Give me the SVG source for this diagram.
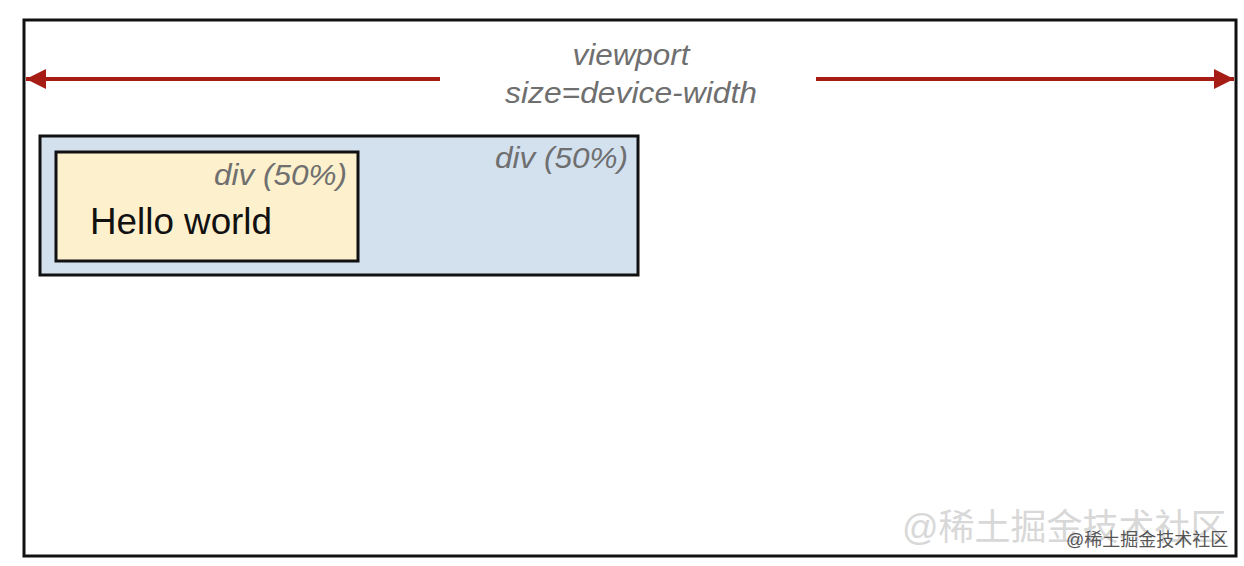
<svg xmlns="http://www.w3.org/2000/svg" width="1244" height="566" viewBox="0 0 1244 566">
<style>
.lbl{font-family:"Liberation Sans",Arial,sans-serif;font-style:italic;fill:#6f6f6f}
.box{stroke:#111;stroke-width:3}
.arr{stroke:#a51d14;stroke-width:4;fill:none}
</style>
<defs>
<marker id="ah" viewBox="0 0 10 10" refX="10" refY="5" markerWidth="5.5" markerHeight="5" orient="auto-start-reverse" markerUnits="strokeWidth">
<path d="M0,0 L10,5 L0,10 Z" fill="#a51d14"/>
</marker>
</defs>
<rect width="1244" height="566" fill="#fff"/>
<g id="viewport">
<rect x="24" y="20" width="1212" height="536" fill="#fff" stroke="#111" stroke-width="3"/>
<text class="lbl" x="631" y="65" font-size="30" text-anchor="middle" textLength="117" lengthAdjust="spacingAndGlyphs">viewport</text>
<text class="lbl" x="631" y="103" font-size="30" text-anchor="middle" textLength="252" lengthAdjust="spacingAndGlyphs">size=device-width</text>
</g>
<g id="connectors">
<line class="arr" x1="440" y1="79" x2="26" y2="79" marker-end="url(#ah)"/>
<line class="arr" x1="816" y1="79" x2="1234" y2="79" marker-end="url(#ah)"/>
</g>
<g id="outer-div">
<rect class="box" x="40" y="136" width="598" height="139" fill="#d3e1ef"/>
<text class="lbl" x="628" y="168" font-size="30" text-anchor="end" textLength="133" lengthAdjust="spacingAndGlyphs">div (50%)</text>
</g>
<g id="inner-div">
<rect class="box" x="56" y="152" width="302" height="109" fill="#fdf0cc"/>
<text class="lbl" x="347" y="185" font-size="30" text-anchor="end" textLength="133" lengthAdjust="spacingAndGlyphs">div (50%)</text>
<text x="90" y="234" font-size="36" font-family="'Liberation Sans',Arial,sans-serif" fill="#111" textLength="182" lengthAdjust="spacingAndGlyphs">Hello world</text>
</g>
<g id="watermark">
<text x="902" y="540" font-size="36" font-family="'Liberation Sans','Noto Sans CJK SC',sans-serif" fill="#d8d8d8">@稀土掘金技术社区</text>
<text x="1066" y="546" font-size="18" font-family="'Liberation Sans','Noto Sans CJK SC',sans-serif" fill="#555">@稀土掘金技术社区</text>
</g>
</svg>
